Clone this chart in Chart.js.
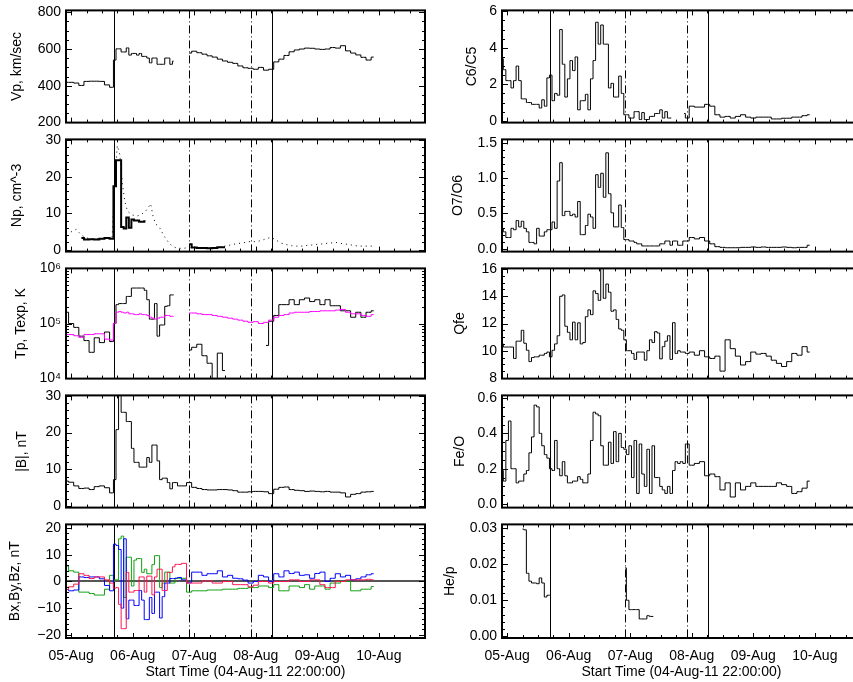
<!DOCTYPE html>
<html>
<head>
<meta charset="utf-8">
<script src="https://cdn.jsdelivr.net/npm/chart.js@4.4.0/dist/chart.umd.min.js"></script>
<style>
  html, body { margin: 0; padding: 0; background: #fff; }
  #page { position: relative; width: 853px; height: 682px; overflow: hidden; background: #fff; }
  #page canvas { position: absolute; }
</style>
</head>
<body>
<div id="page"></div>
<script>
/* time axis: hours after 04-Aug-11 22:00 */
const dayHours = [2, 26, 50, 74, 98, 122];
const dayLabels = ['05-Aug', '06-Aug', '07-Aug', '08-Aug', '09-Aug', '10-Aug'];
const eventHours = [18.7, 48.0, 72.3, 80.3];
const eventDash = [[], [8, 3, 1, 3], [8, 3, 1, 3], []];

/* solar wind + magnetic field (left column) */
const swHours = [0,2,4,6,8,10,12,14,16,18,
  19,20,21,22,23,24,25,26,27,28,29,30,31,32,33,34,35,36,37,38,39,40,41,42,43,44,
  46,48,50,52,54,56,58,60,62,64,66,68,70,72,74,76,78,80,82,84,86,88,90,92,94,96,98,100,102,104,106,108,110,112,114,116,118,120];

const vpVals = [419,419,415,402,424,425,425,424,405,392,
  540,601,601,584,584,606,567,576,576,567,576,560,560,551,525,551,551,517,517,517,551,551,517,534,null,null,
  null,578,588,580,572,563,556,545,535,528,522,508,498,495,490,500,485,490,530,545,565,585,595,600,605,604,600,598,600,608,605,618,590,578,568,555,540,556];

const npSolid = [null,null,null,3.2,2.8,2.9,2.8,3.0,3.2,3.0,
  17.4,24.5,24.5,6.2,5.8,8.8,6.0,8.3,8.0,8.0,7.7,7.7,7.8,null,null,null,null,null,null,null,null,null,null,null,null,null,
  null,1.5,0.6,0.5,0.5,0.4,0.5,0.7,0.7,null,null,null,null,null,null,null,null,null,null,null,null,null,null,null,null,null,null,null,null,null,null,null,null,null,null,null,null,null];

const npDotted = [4.8,4.9,5.6,4.0,3.2,3.0,3.0,3.0,3.2,3.5,
  19,28.5,26,18,13,10.5,10,9.5,9.3,9.3,9.6,10,10.5,11.5,12.6,9,7,6.5,5.5,4,3,2,1.3,0.8,0.5,0.4,
  0.4,0.7,0.6,0.5,0.5,0.5,0.6,0.7,1.0,1.3,1.6,1.8,2.0,2.3,2.2,2.5,3.0,3.4,2.6,1.8,1.4,1.1,1.0,1.0,1.2,1.3,1.5,1.6,1.8,1.9,2.0,1.6,1.5,1.2,1.0,1.0,1.0,1.0];

const tpVals = [1.6e5,1.0e5,8.5e4,5.9e4,4.9e4,3.0e4,5.5e4,4.5e4,7.0e4,4.7e4,
  1.0e5,2.2e5,2.3e5,2.3e5,2.3e5,3.1e5,3.1e5,4.4e5,4.4e5,4.4e5,4.4e5,4.4e5,4.0e5,2.7e5,1.2e5,1.2e5,2.3e5,5.9e4,9.4e4,9.4e4,2.05e5,2.1e5,3.3e5,3.3e5,null,null,
  null,3.3e4,3.7e4,4.2e4,2.6e4,1.9e4,8e3,2.9e4,1.4e4,null,null,null,null,null,null,null,4.0e4,1.1e5,1.4e5,2.2e5,2.2e5,2.7e5,2.2e5,2.7e5,2.9e5,2.5e5,2.7e5,2.2e5,2.7e5,2.1e5,2.1e5,1.7e5,1.7e5,1.3e5,1.6e5,1.3e5,1.6e5,1.7e5];

const texpVals = [6.3e4,6.3e4,6.0e4,5.6e4,6.3e4,6.3e4,6.5e4,6.5e4,5.2e4,5.0e4,
  1.0e5,1.6e5,1.65e5,1.6e5,1.55e5,1.6e5,1.5e5,1.5e5,1.45e5,1.45e5,1.5e5,1.45e5,1.45e5,1.4e5,1.3e5,1.25e5,1.2e5,1.25e5,1.3e5,1.3e5,1.4e5,1.4e5,1.35e5,1.35e5,null,null,
  null,1.55e5,1.55e5,1.5e5,1.45e5,1.45e5,1.4e5,1.35e5,1.3e5,1.25e5,1.2e5,1.15e5,1.1e5,1.05e5,1.08e5,1.0e5,1.05e5,1.15e5,1.3e5,1.4e5,1.45e5,1.55e5,1.6e5,1.6e5,1.6e5,1.65e5,1.65e5,1.7e5,1.7e5,1.7e5,1.75e5,1.8e5,1.6e5,1.5e5,1.5e5,1.4e5,1.35e5,1.45e5];

const bMag = [6.8,6.5,5.5,4.8,4.9,4.5,5.3,5.5,5.0,3.6,
  7.2,20.8,31,25.5,25.5,23,23,15.7,11.9,11.9,10.6,10.6,10.6,13.2,11.9,16.6,16.6,12.3,7.2,7.6,7.6,6.4,4.7,6.4,6.4,5.5,
  5.5,6.4,5.1,4.8,4.5,4.4,4.4,4.5,4.5,4.4,4.2,3.8,3.8,3.9,4.0,4.0,3.9,3.4,4.6,5.1,5.2,4.5,4.3,4.2,4.0,4.1,4.0,3.9,4.0,3.8,3.8,3.6,2.5,3.2,3.4,3.8,3.9,4.0];

// field components, named by plot colour
const bRed = [-3,-2,-1,2.9,2.3,1.1,1.7,1.7,0.6,-0.6,
  -2.5,-2.3,-8.6,-17.7,-17.7,3.4,-4,-4,-3.4,-3.4,1.7,1.7,-4,2,2,-5,1.7,4.6,4.6,-3.4,-3.4,3.4,3.4,5.5,6.4,6.4,
  6.8,-0.6,-0.6,-0.6,0.2,0.2,-0.6,-0.6,0,0,-1.2,-1.2,-1.2,-2,-1.4,0,0,-0.6,0,0,0,0.6,0.6,0,0,0.6,0.6,-1.2,-2.3,-2.3,0,0,0.6,0.6,0.6,0.6,0.8,0.6];
const bBlue = [-3.0,-3.5,-3.2,1.7,1.5,1.7,1.7,1.0,-1.5,-3.5,
  14,13.5,12,-10,16,-14,-7,-7,-9,-9,-3.4,-7,-14.3,-14.3,-6,-12,-4,-4,-13.7,-5.7,-0.6,-0.6,1.1,1.1,1.2,1.5,
  0.6,-0.5,3.5,3.5,2.3,2.9,2.9,4.0,1.7,2.3,1.2,1.0,0.5,-0.6,0,2.3,1.7,0,2.9,1.7,4.0,3.0,3.5,2.3,2.5,1.2,3.0,3.5,0,1.2,2.9,1.7,2.3,0.6,1.0,1.7,2.5,2.9];
const bGreen = [5.8,4.0,3.5,-4,-4,-4.5,-5.1,-5.1,-2.9,2.3,
  0.6,0.6,16,17,-6,9.1,9.1,-1.7,8,8.6,8.6,3.4,4.6,2.9,2.9,6.3,9.7,9.7,-2.3,-0.6,3.5,3.5,-0.6,-0.6,1.2,1.2,
  1.2,-4,-3.5,-3.5,-3.5,-3.2,-3.2,-3.2,-2.9,-2.9,-2.9,-2.6,-2.6,-2.3,-2.3,-1.7,-1.7,-2.3,-1.2,-3.5,-3.5,-1.7,-1.7,-2.3,-1.2,-2.9,-1.7,-1.7,-2.9,-0.6,-0.6,0,0,-3.5,-3.5,-2.9,-2.9,-1.9];

/* heavy ion composition (right column) */
const ionHours = [0,1,2,3,4,5,6,7,8,9,10,11,12,13,14,15,16,17,18,19,20,21,22,23,24,25,26,27,28,29,30,31,32,33,34,35,36,37,38,39,40,41,42,43,44,45,46,47,48,
  49,50,51,52,53,54,55,56,57,58,59,60,61,62,63,64,65,66,67,68,69,70,71,72,
  74,76,78,80,82,84,86,88,90,92,94,96,98,100,102,104,106,108,110,112,114,116,118,120];

const c6c5 = [3.4,2.8,2.2,2.2,1.8,2.2,3.0,2.2,1.2,1.2,1.0,1.0,0.9,0.9,0.9,0.7,1.15,0.8,2.35,2.5,1.1,1.5,1.4,5.0,3.1,1.3,2.3,3.3,2.75,3.5,0.6,1.1,1.1,1.45,0.6,2.3,3.3,5.4,4.2,5.25,4.2,4.2,1.8,2.05,1.3,1.3,2.45,1.5,0.33,
  0.33,0.15,0.15,0.5,0.5,0.07,0.45,0.07,0.07,0.24,0.24,0.4,0.4,0.6,0.15,0.5,0.15,0.15,null,null,null,null,0.4,0.15,
  0.8,0.75,0.75,0.9,0.8,0.33,0.2,0.24,0.15,0.24,0.33,0.2,0.15,0.2,0.2,0.2,0.1,0.1,0.14,0.14,0.2,0.2,0.28,0.33];

const o7o6 = [0.29,0.24,0.16,0.16,0.29,0.27,0.40,0.31,0.39,0.29,0.24,0.09,0.09,0.07,0.29,0.18,0.18,0.24,0.27,0.27,0.38,0.29,0.96,1.22,0.47,0.53,0.53,0.47,0.49,0.45,0.67,0.2,0.2,0.33,0.49,0.45,0.29,1.05,0.87,1.07,0.73,1.36,0.78,0.51,0.31,0.31,0.62,0.3,0.13,
  0.13,0.11,0.11,0.09,0.07,0.07,0.04,0.04,0.04,0.04,0.04,0.04,0.04,0.07,0.07,0.11,0.11,0.05,0.11,0.11,0.05,0.05,0.11,0.11,
  0.16,0.14,0.16,0.11,0.07,0.03,0.02,0.015,0.015,0.015,0.02,0.02,0.025,0.02,0.025,0.02,0.02,0.02,0.025,0.02,0.015,0.02,0.02,0.05];

const qfe = [10.5,10.27,10.27,10.27,10.27,9.43,10.7,10.7,11.5,10.55,10.03,9.2,9.5,9.55,9.55,9.67,9.67,9.8,9.9,9.55,10.03,10.5,11.1,14.0,14.1,11.8,11.35,10.8,12.1,10.8,12.05,10.5,10.6,12.5,13.0,12.65,14.4,14.2,13.7,16.1,13.85,14.9,14.3,12.9,13.0,12.3,11.6,11.5,10.8,
  10.0,10.0,9.8,9.36,9.9,9.9,9.9,9.3,10.0,10.8,10.6,11.4,11.3,9.4,10.3,10.7,11.1,9.36,12.06,9.8,10.0,9.9,9.9,9.8,
  9.9,9.67,10.0,9.55,9.43,9.6,8.5,10.8,10.15,9.6,8.95,9.2,9.9,9.75,9.8,9.6,9.3,9.07,8.84,9.2,9.8,9.67,10.3,9.9];

const feo = [0.19,0.13,0.36,0.47,0.2,0.2,0.12,0.13,0.13,0.17,0.19,0.29,0.38,0.56,0.55,0.4,0.33,0.28,0.26,0.2,0.19,0.36,0.2,0.16,0.24,0.16,0.12,0.12,0.13,0.13,0.155,0.14,0.12,0.12,0.17,0.36,0.52,0.51,0.5,0.33,0.22,0.22,0.35,0.23,0.41,0.24,0.4,0.32,0.31,
  0.28,0.33,0.15,0.36,0.06,0.34,0.17,0.1,0.31,0.06,0.33,0.15,0.15,0.1,0.08,0.06,0.1,0.06,0.19,0.24,0.23,0.24,0.23,0.34,
  0.22,0.23,0.24,0.16,0.17,0.155,0.08,0.12,0.04,0.12,0.08,0.1,0.12,0.1,0.1,0.1,0.1,0.12,0.11,0.1,0.06,0.07,0.09,0.13];

const heHours = [8,9,10,11,12,13,14,15,16,17,18,19,30,48,49,50,51,52,53,54,55,56,57,58,59];
const heVals = [0.0298,0.0296,0.0175,0.0153,0.0148,0.0148,0.0146,0.0162,0.0148,0.0109,0.0114,0.0114,null,
  0.019,0.010,0.0074,0.0074,0.0074,0.0074,0.0048,0.0048,0.0048,0.0057,0.0055,0.0055];

/* panel rows (top, bottom of plot box) */
const rowBox = [[7,126],[136,255],[265,382],[392,511],[521,638]];

Chart.defaults.font.family = '"Liberation Sans", Arial, sans-serif';
Chart.defaults.font.size = 14;
Chart.defaults.color = '#000';

function pts(hours, vals) {
    return hours.map((h, i) => ({ x: h, y: vals[i] }));
}

function line(hours, vals, color, extra) {
    return Object.assign({
        data: pts(hours, vals),
        borderColor: color,
        borderWidth: 1,
        stepped: 'middle',
        pointRadius: 0,
        spanGaps: false,
        fill: false
    }, extra || {});
}

/* IDL style box, inward ticks, event lines */
const idlFrame = {
    id: 'idlFrame',
    beforeDatasetsDraw(chart, args, o) {
        const { ctx, chartArea: a, scales: { x, y } } = chart;
        ctx.save();
        ctx.strokeStyle = '#000';
        ctx.lineWidth = 1;
        eventHours.forEach((h, i) => {
            const px = Math.round(x.getPixelForValue(h)) + 0.5;
            ctx.setLineDash(eventDash[i]);
            ctx.beginPath();
            ctx.moveTo(px, a.top);
            ctx.lineTo(px, a.bottom);
            ctx.stroke();
        });
        ctx.setLineDash([]);
        if (o.zeroLine) {
            const py = Math.round(y.getPixelForValue(0));
            ctx.strokeStyle = '#555';
            ctx.lineWidth = 2;
            ctx.beginPath();
            ctx.moveTo(a.left, py);
            ctx.lineTo(a.right, py);
            ctx.stroke();
        }
        ctx.restore();
    },
    afterDraw(chart, args, o) {
        const { ctx, chartArea: a, scales: { x, y } } = chart;
        ctx.save();
        ctx.strokeStyle = '#000';
        ctx.lineWidth = 1;
        ctx.beginPath();
        // x ticks (bottom and top)
        for (let h = 2; h <= 140; h += 6) {
            const len = dayHours.includes(h) ? 5 : 3;
            const px = Math.round(x.getPixelForValue(h)) + 0.5;
            ctx.moveTo(px, a.bottom); ctx.lineTo(px, a.bottom - len);
            ctx.moveTo(px, a.top); ctx.lineTo(px, a.top + len);
        }
        // y ticks (left and right)
        const majors = y.ticks.map(t => t.value);
        let minors = [];
        if (o.log) {
            [1e4, 1e5].forEach(d => { for (let m = 2; m <= 9; m++) minors.push(m * d); });
        } else {
            for (let v = Math.ceil(y.min / o.minorStep) * o.minorStep; v <= y.max + 1e-9; v += o.minorStep) minors.push(v);
        }
        const tick = (v, len) => {
            const py = Math.round(y.getPixelForValue(v)) + 0.5;
            if (py < a.top || py > a.bottom) return;
            ctx.moveTo(a.left, py); ctx.lineTo(a.left + len, py);
            ctx.moveTo(a.right, py); ctx.lineTo(a.right - len, py);
        };
        minors.forEach(v => tick(v, 3));
        majors.forEach(v => tick(v, 6));
        ctx.stroke();
        // box
        ctx.lineWidth = 2;
        ctx.strokeRect(a.left, a.top, a.right - a.left, a.bottom - a.top);
        ctx.restore();
    }
};
Chart.register(idlFrame);

const page = document.getElementById('page');

function addPanel(p) {
    const bottomRow = p.row === 4;
    const [pTop, pBottom] = rowBox[p.row];
    const canvasLeft = p.col === 0 ? 0 : 440;
    const axisW = p.col === 0 ? 66 : 62;
    const plotRight = p.col === 0 ? 425 : 861;
    const width = plotRight - canvasLeft + 4;
    const height = 10 + (pBottom - pTop) + (bottomRow ? 46 : 10);

    const cv = document.createElement('canvas');
    cv.width = width;
    cv.height = height;
    cv.style.left = canvasLeft + 'px';
    cv.style.top = (pTop - 10) + 'px';
    cv.style.width = width + 'px';
    cv.style.height = height + 'px';
    page.appendChild(cv);

    const xScale = {
        type: 'linear',
        min: 0,
        max: 140,
        display: bottomRow,
        grid: { display: false, drawTicks: false },
        border: { display: false },
        afterBuildTicks: s => { s.ticks = dayHours.map(v => ({ value: v })); },
        ticks: {
            autoSkip: false,
            maxRotation: 0,
            padding: 10,
            callback: v => dayLabels[dayHours.indexOf(v)]
        },
        title: {
            display: true,
            text: 'Start Time (04-Aug-11 22:00:00)',
            padding: { top: 0, bottom: 3 }
        }
    };
    if (bottomRow) xScale.afterFit = s => { s.height = 46; };

    new Chart(cv, {
        type: 'line',
        data: { datasets: p.datasets },
        options: {
            responsive: false,
            animation: false,
            devicePixelRatio: 1,
            layout: { padding: { top: 10, right: 4, bottom: bottomRow ? 0 : 10, left: 0 } },
            plugins: {
                legend: { display: false },
                tooltip: { enabled: false },
                idlFrame: { minorStep: p.minorStep, log: p.log, zeroLine: p.zeroLine }
            },
            scales: {
                x: xScale,
                y: {
                    type: p.log ? 'logarithmic' : 'linear',
                    min: p.min,
                    max: p.max,
                    grid: { display: false, drawTicks: false },
                    border: { display: false },
                    afterBuildTicks: s => { s.ticks = p.ticks.map(v => ({ value: v })); },
                    afterFit: s => { s.width = axisW; },
                    ticks: { padding: 5, callback: p.fmt },
                    title: { display: true, text: p.label, padding: { top: p.titlePad, bottom: 0 } }
                }
            }
        }
    });
}

const minus = v => (v < 0 ? '\u2212' + Math.abs(v) : String(v));

/* left column */
addPanel({ col: 0, row: 0, label: 'Vp, km/sec', min: 200, max: 810, ticks: [200, 400, 600, 800],
    minorStep: 50, fmt: v => String(v), titlePad: 9,
    datasets: [line(swHours, vpVals, '#000')] });

addPanel({ col: 0, row: 1, label: 'Np, cm^-3', min: -0.5, max: 30.2, ticks: [0, 10, 20, 30],
    minorStep: 2, fmt: v => String(v), titlePad: 9,
    datasets: [
        line(swHours, npSolid, '#000', { borderWidth: 2 }),
        line(swHours, npDotted, '#000', { stepped: false, borderDash: [1, 4] })
    ] });

addPanel({ col: 0, row: 2, label: 'Tp, Texp, K', min: 1e4, max: 1e6, ticks: [1e4, 1e5, 1e6], log: true,
    fmt: v => ({ 10000: '10\u2074', 100000: '10\u2075', 1000000: '10\u2076' })[v] || '', titlePad: 13,
    datasets: [
        line(swHours, texpVals, '#ff00ff'),
        line(swHours, tpVals, '#000')
    ] });

addPanel({ col: 0, row: 3, label: '|B|, nT', min: -0.4, max: 30.1, ticks: [0, 10, 20, 30],
    minorStep: 2, fmt: v => String(v), titlePad: 14,
    datasets: [line(swHours, bMag, '#000')] });

addPanel({ col: 0, row: 4, label: 'Bx,By,Bz, nT', min: -21.2, max: 21.4, ticks: [-20, -10, 0, 10, 20],
    minorStep: 2, fmt: minus, zeroLine: true, titlePad: 7,
    datasets: [
        line(swHours, bRed, '#ff1450'),
        line(swHours, bBlue, '#0000ff'),
        line(swHours, bGreen, '#10a010')
    ] });

/* right column */
addPanel({ col: 1, row: 0, label: 'C6/C5', min: -0.1, max: 6.05, ticks: [0, 2, 4, 6],
    minorStep: 0.5, fmt: v => String(v), titlePad: 24,
    datasets: [line(ionHours, c6c5, '#000')] });

addPanel({ col: 1, row: 1, label: 'O7/O6', min: -0.04, max: 1.55, ticks: [0, 0.5, 1.0, 1.5],
    minorStep: 0.1, fmt: v => v.toFixed(1), titlePad: 10,
    datasets: [line(ionHours, o7o6, '#000')] });

addPanel({ col: 1, row: 2, label: 'Qfe', min: 7.95, max: 16.05, ticks: [8, 10, 12, 14, 16],
    minorStep: 0.5, fmt: v => String(v), titlePad: 12,
    datasets: [line(ionHours, qfe, '#000')] });

addPanel({ col: 1, row: 3, label: 'Fe/O', min: -0.02, max: 0.615, ticks: [0, 0.2, 0.4, 0.6],
    minorStep: 0.05, fmt: v => v.toFixed(1), titlePad: 12,
    datasets: [line(ionHours, feo, '#000')] });

addPanel({ col: 1, row: 4, label: 'He/p', min: -0.0005, max: 0.0311, ticks: [0, 0.01, 0.02, 0.03],
    minorStep: 0.002, fmt: v => v.toFixed(2), titlePad: 2,
    datasets: [line(heHours, heVals, '#000')] });
</script>
</body>
</html>
